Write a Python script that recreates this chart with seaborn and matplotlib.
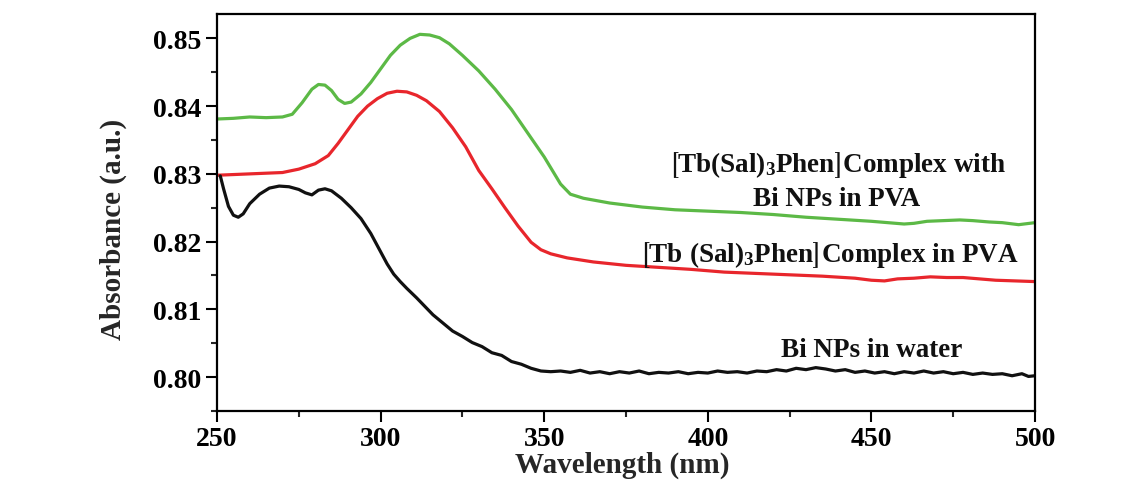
import numpy as np
import pandas as pd
import matplotlib
matplotlib.use("Agg")
import matplotlib.pyplot as plt
import seaborn as sns
from matplotlib.ticker import MultipleLocator, FormatStrFormatter

# [Tb(Sal)3Phen] complex with Bi NPs in PVA (green)
wl_green = [250, 255, 260, 265, 270, 273, 276, 279, 281, 283, 285, 287, 289, 291,
            294, 297, 300, 303, 306, 309, 312, 315, 318, 321, 325, 330, 335, 340,
            345, 350, 355, 358, 362, 370, 380, 390, 400, 410, 420, 430, 440, 450,
            455, 460, 463, 467, 472, 477, 481, 486, 490, 495, 500]
abs_green = [0.8381, 0.8382, 0.8384, 0.8383, 0.8384, 0.8388, 0.8405, 0.8425, 0.8432,
             0.8431, 0.8423, 0.8410, 0.8404, 0.8406, 0.8418, 0.8435, 0.8455, 0.8475,
             0.8490, 0.8500, 0.8506, 0.8505, 0.8501, 0.8492, 0.8475, 0.8452, 0.8425,
             0.8395, 0.8360, 0.8325, 0.8285, 0.8270, 0.8264, 0.8257, 0.8251, 0.8247,
             0.8245, 0.8243, 0.8240, 0.8236, 0.8233, 0.8230, 0.8228, 0.8226, 0.8227,
             0.8230, 0.8231, 0.8232, 0.8231, 0.8229, 0.8228, 0.8225, 0.8228]

# [Tb(Sal)3Phen] complex in PVA (red)
wl_red = [250, 255, 260, 265, 270, 275, 280, 284, 287, 290, 293, 296, 299, 302, 305,
          308, 311, 314, 318, 322, 326, 330, 334, 338, 342, 346, 349, 352, 357, 365,
          375, 385, 395, 405, 415, 425, 435, 445, 450, 454, 458, 463, 468, 473, 478,
          483, 488, 494, 500]
abs_red = [0.8298, 0.8299, 0.8300, 0.8301, 0.8302, 0.8307, 0.8315, 0.8327, 0.8345,
           0.8365, 0.8385, 0.8400, 0.8411, 0.8419, 0.8422, 0.8421, 0.8416, 0.8408,
           0.8392, 0.8368, 0.8340, 0.8305, 0.8278, 0.8250, 0.8223, 0.8199, 0.8188,
           0.8182, 0.8176, 0.8170, 0.8165, 0.8162, 0.8159, 0.8155, 0.8153, 0.8151,
           0.8149, 0.8146, 0.8143, 0.8142, 0.8145, 0.8146, 0.8148, 0.8147, 0.8147,
           0.8145, 0.8143, 0.8142, 0.8141]

# Bi NPs in water (black)
wl_black = [251, 252, 253.5, 255, 256.5, 258, 260, 263, 266, 269, 272, 275, 277, 279,
            281, 283, 285, 288, 291, 294, 297, 300, 302, 304, 306, 308, 311, 313, 316,
            319, 322, 325, 328, 331, 334, 337, 340, 343, 346, 349, 352, 355, 358, 361,
            364, 367, 370, 373, 376, 379, 382, 385, 388, 391, 394, 397, 400, 403, 406,
            409, 412, 415, 418, 421, 424, 427, 430, 433, 436, 439, 442, 445, 448, 451,
            454, 457, 460, 463, 466, 469, 472, 475, 478, 481, 484, 487, 490, 493, 496,
            498, 500]
abs_black = [0.8297, 0.8278, 0.8252, 0.8239, 0.8236, 0.8241, 0.8256, 0.8270, 0.8279,
             0.8282, 0.8281, 0.8277, 0.8272, 0.8269, 0.8276, 0.8278, 0.8275, 0.8264,
             0.8250, 0.8234, 0.8212, 0.8185, 0.8167, 0.8152, 0.8141, 0.8131, 0.8117,
             0.8107, 0.8092, 0.8080, 0.8068, 0.8060, 0.8051, 0.8045, 0.8036, 0.8032,
             0.8023, 0.8019, 0.8013, 0.8009, 0.8008, 0.8009, 0.8007, 0.8010, 0.8006,
             0.8008, 0.8005, 0.8008, 0.8006, 0.8009, 0.8005, 0.8007, 0.8006, 0.8008,
             0.8005, 0.8007, 0.8006, 0.8009, 0.8007, 0.8008, 0.8006, 0.8009, 0.8008,
             0.8011, 0.8009, 0.8013, 0.8011, 0.8014, 0.8012, 0.8009, 0.8011, 0.8007,
             0.8009, 0.8006, 0.8008, 0.8005, 0.8008, 0.8006, 0.8009, 0.8006, 0.8008,
             0.8005, 0.8007, 0.8004, 0.8006, 0.8004, 0.8005, 0.8002, 0.8005, 0.8001,
             0.8002]

samples = ["Tb complex + Bi NPs in PVA", "Tb complex in PVA", "Bi NPs in water"]
colors = ["#5cb946", "#e8262c", "#111111"]

x_ticks = [250, 300, 350, 400, 450, 500]
y_ticks = [0.80, 0.81, 0.82, 0.83, 0.84, 0.85]

df = pd.concat([
    pd.DataFrame({"wavelength": wl_green, "absorbance": abs_green, "sample": samples[0]}),
    pd.DataFrame({"wavelength": wl_red, "absorbance": abs_red, "sample": samples[1]}),
    pd.DataFrame({"wavelength": wl_black, "absorbance": abs_black, "sample": samples[2]}),
], ignore_index=True)

sns.set_style("ticks")
plt.rcParams["font.family"] = ["Liberation Serif", "DejaVu Serif"]
plt.rcParams["font.weight"] = "bold"
plt.rcParams["mathtext.fontset"] = "custom"
plt.rcParams["mathtext.rm"] = "Liberation Serif:bold"
plt.rcParams["mathtext.it"] = "Liberation Serif:bold"
plt.rcParams["mathtext.bf"] = "Liberation Serif:bold"
plt.rcParams["mathtext.fallback"] = "stix"

fig = plt.figure(figsize=(11.38, 4.81), dpi=100)
ax = fig.add_axes([0.1907, 0.1435, 0.7188, 0.8253])

sns.lineplot(data=df, x="wavelength", y="absorbance", hue="sample",
             palette=dict(zip(samples, colors)), estimator=None, sort=False,
             linewidth=2.3, legend=False, ax=ax)

ax.set_xlim(250, 500)
ax.set_ylim(0.795, 0.8536)
ax.set_xticks(x_ticks)
ax.set_yticks(y_ticks)
ax.xaxis.set_minor_locator(MultipleLocator(25))
ax.yaxis.set_minor_locator(MultipleLocator(0.005))
ax.yaxis.set_major_formatter(FormatStrFormatter("%.2f"))
ax.tick_params(which="major", direction="out", length=8, width=1.5,
               labelsize=20, pad=3, colors="black")
ax.tick_params(which="minor", direction="out", length=4, width=1.5)
for sp in ax.spines.values():
    sp.set_linewidth(1.6)
    sp.set_color("black")

ax.set_xlabel("Wavelength (nm)", fontsize=21, fontweight="bold")
ax.set_ylabel("Absorbance (a.u.)", fontsize=21, fontweight="bold")
ax.xaxis.set_label_coords(0.495, -0.1)
ax.yaxis.set_label_coords(-0.11, 0.46)

txt = dict(ha="center", va="center", fontsize=19.5, fontweight="bold", color="#111111")
ax.text(439.5, 0.8314, r"$\left[\mathrm{Tb(Sal)_{3}Phen}\right]$Complex with", **txt)
ax.text(439.5, 0.8263, "Bi NPs in PVA", **txt)
ax.text(437, 0.8181, r"$\left[\mathrm{Tb\ (Sal)_{3}Phen}\right]$Complex in PVA", **txt)
ax.text(450, 0.8041, "Bi NPs in water", **txt)

fig.savefig("out.png", dpi=100)
